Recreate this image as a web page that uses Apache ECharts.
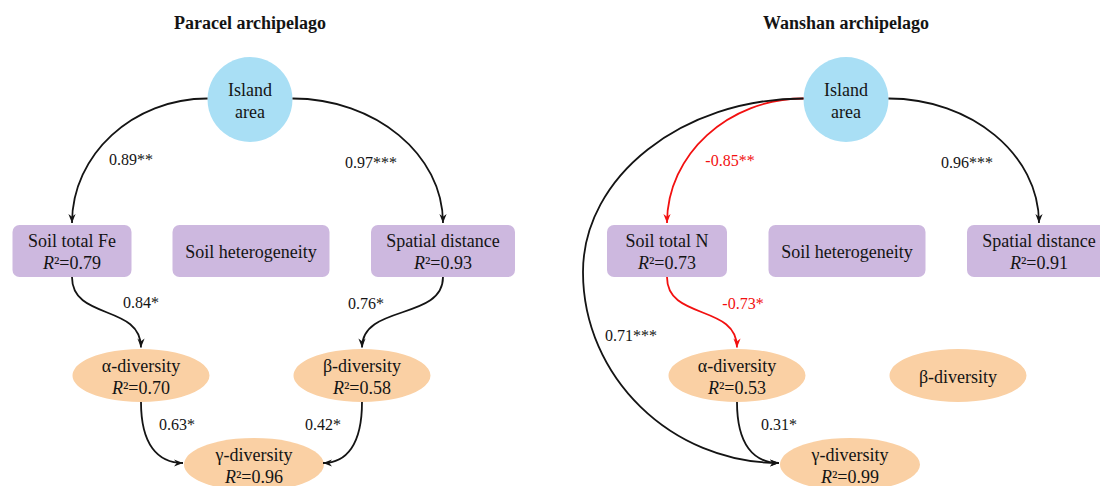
<!DOCTYPE html>
<html>
<head>
<meta charset="utf-8">
<script src="https://cdn.jsdelivr.net/npm/echarts@6/dist/echarts.min.js"></script>
<style>
  html, body { margin: 0; padding: 0; background: #fff; }
  #chart { width: 1100px; height: 486px; }
</style>
</head>
<body>
<div id="chart"></div>
<script>
// ---------------- Data: structural equation models of two archipelagos ----------------
const panelTitles = ['Paracel archipelago', 'Wanshan archipelago'];

// Variables of each model and their explained variance (null = not reported)
const paracelNodes = ['Island area', 'Soil total Fe', 'Soil heterogeneity', 'Spatial distance', 'α-diversity', 'β-diversity', 'γ-diversity'];
const paracelR2    = [null, 0.79, null, 0.93, 0.70, 0.58, 0.96];
const wanshanNodes = ['Island area', 'Soil total N', 'Soil heterogeneity', 'Spatial distance', 'α-diversity', 'β-diversity', 'γ-diversity'];
const wanshanR2    = [null, 0.73, null, 0.91, 0.53, null, 0.99];

// Significant paths: source, target, standardized coefficient, significance stars
const paracelFrom = ['Island area', 'Island area', 'Soil total Fe', 'Spatial distance', 'α-diversity', 'β-diversity'];
const paracelTo   = ['Soil total Fe', 'Spatial distance', 'α-diversity', 'β-diversity', 'γ-diversity', 'γ-diversity'];
const paracelCoef = [0.89, 0.97, 0.84, 0.76, 0.63, 0.42];
const paracelSig  = ['**', '***', '*', '*', '*', '*'];

const wanshanFrom = ['Island area', 'Island area', 'Island area', 'Soil total N', 'α-diversity'];
const wanshanTo   = ['Soil total N', 'Spatial distance', 'γ-diversity', 'α-diversity', 'γ-diversity'];
const wanshanCoef = [-0.85, 0.96, 0.71, -0.73, 0.31];
const wanshanSig  = ['**', '***', '***', '*', '*'];

// ---------------- Layout (diagram units = pixels of a 1100 x 486 canvas) ----------------
const WIDTH = 1100, HEIGHT = 486;
const panelShift = [0, 596];
const titlePos = [250, 23];

const nodeLayout = {
  'Island area':        { shape: 'circle',  x: 250, y: 99.5,  w: 85,  h: 85, text: 'Island\narea' },
  'Soil total Fe':      { shape: 'box',     x: 72,  y: 251,   w: 119, h: 52 },
  'Soil total N':       { shape: 'box',     x: 71,  y: 251,   w: 120, h: 52 },
  'Soil heterogeneity': { shape: 'box',     x: 251, y: 251,   w: 157, h: 52 },
  'Spatial distance':   { shape: 'box',     x: 443, y: 251,   w: 144, h: 52 },
  'α-diversity':        { shape: 'ellipse', x: 141, y: 375.5, w: 137, h: 53 },
  'β-diversity':        { shape: 'ellipse', x: 362, y: 375.5, w: 137, h: 53 },
  'γ-diversity':        { shape: 'ellipse', x: 254, y: 464.5, w: 140, h: 53 }
};

// Routing style of each path and where its coefficient sits
const edgeLayout = [
  {
    'Island area>Soil total Fe':     { route: 'arc',  label: [131, 159] },
    'Island area>Spatial distance':  { route: 'arc',  label: [371, 162] },
    'Soil total Fe>α-diversity':     { route: 'S',    label: [141, 302] },
    'Spatial distance>β-diversity':  { route: 'S',    label: [366, 303] },
    'α-diversity>γ-diversity':       { route: 'hook', label: [177, 424] },
    'β-diversity>γ-diversity':       { route: 'hook', label: [323, 424] }
  },
  {
    'Island area>Soil total N':      { route: 'arc',  label: [134, 160] },
    'Island area>Spatial distance':  { route: 'arc',  label: [371, 162] },
    'Island area>γ-diversity':       { route: 'loop', label: [35, 335], outer: [-13, 272] },
    'Soil total N>α-diversity':      { route: 'S',    label: [147, 303] },
    'α-diversity>γ-diversity':       { route: 'hook', label: [183, 424] }
  }
];

const FONT = '"Liberation Serif", "Times New Roman", Times, serif';
const COLORS = { circle: '#A9DFF5', box: '#CDB8DF', ellipse: '#FAD0A4', ink: '#141414', neg: '#F21010' };

// Cubic segments [p0, cp1, cp2, p3] for one path
function routeSegments(E, s, t) {
  const k = 0.55;
  if (E.route === 'arc') {
    const dir = Math.sign(t.x - s.x);
    const p0 = [s.x + dir * s.w / 2, s.y - 1];
    const p3 = [t.x, t.y - t.h / 2 - 2];
    return [[p0, [p0[0] + (p3[0] - p0[0]) * k, p0[1]], [p3[0], p3[1] - (p3[1] - p0[1]) * k], p3]];
  }
  if (E.route === 'S') {
    const p0 = [s.x, s.y + s.h / 2];
    const p3 = [t.x, t.y - t.h / 2 - 1.5];
    const d = (p3[1] - p0[1]) * 0.62;
    return [[p0, [p0[0], p0[1] + d], [p3[0], p3[1] - d], p3]];
  }
  if (E.route === 'hook') {
    const dir = Math.sign(t.x - s.x);
    const p0 = [s.x, s.y + s.h / 2];
    const p3 = [t.x - dir * t.w / 2 - 1, t.y - 1.5];
    return [[p0, [p0[0], p0[1] + (p3[1] - p0[1]) * 0.7], [p0[0] + (p3[0] - p0[0]) * 0.4, p3[1]], p3]];
  }
  // loop: around the outside of the panel, from the circle to the side of the target
  const p0 = [s.x - s.w / 2, s.y - 1];
  const m = E.outer;
  const p3 = [t.x - t.w / 2 - 1, t.y - 1.5];
  return [
    [p0, [p0[0] - (p0[0] - m[0]) * k, p0[1]], [m[0], m[1] - (m[1] - p0[1]) * k], m],
    [m, [m[0], m[1] + (p3[1] - m[1]) * k], [p3[0] - (p3[0] - m[0]) * k, p3[1]], p3]
  ];
}

const panels = [
  { nodes: paracelNodes, r2: paracelR2, from: paracelFrom, to: paracelTo, coef: paracelCoef, sig: paracelSig },
  { nodes: wanshanNodes, r2: wanshanR2, from: wanshanFrom, to: wanshanTo, coef: wanshanCoef, sig: wanshanSig }
];

const nodeItems = [];
const edgeItems = [];
panels.forEach((p, pi) => {
  const dx = panelShift[pi];
  p.nodes.forEach((name, i) => {
    const L = nodeLayout[name];
    nodeItems.push({ shape: L.shape, x: L.x + dx, y: L.y, w: L.w, h: L.h, text: L.text || name, r2: p.r2[i] });
  });
  p.from.forEach((src, j) => {
    const E = edgeLayout[pi][src + '>' + p.to[j]];
    const segs = routeSegments(E, nodeLayout[src], nodeLayout[p.to[j]])
      .map(seg => seg.map(pt => [pt[0] + dx, pt[1]]));
    edgeItems.push({
      segs,
      lx: E.label[0] + dx, ly: E.label[1],
      text: p.coef[j].toFixed(2) + p.sig[j],
      color: p.coef[j] < 0 ? COLORS.neg : COLORS.ink
    });
  });
});

const richStyles = {
  n: { fontFamily: FONT, fontSize: 18, fill: COLORS.ink, lineHeight: 22 },
  i: { fontFamily: FONT, fontSize: 18, fontStyle: 'italic', fill: COLORS.ink, lineHeight: 22 }
};

function renderNode(params, api) {
  const item = nodeItems[params.dataIndex];
  const c = api.coord([item.x, item.y]);
  const sz = api.size([item.w, item.h]);
  const w = sz[0], h = sz[1];
  let body;
  if (item.shape === 'box') {
    body = { type: 'rect', shape: { x: c[0] - w / 2, y: c[1] - h / 2, width: w, height: h, r: 7 }, style: { fill: COLORS.box } };
  } else if (item.shape === 'circle') {
    body = { type: 'circle', shape: { cx: c[0], cy: c[1], r: w / 2 }, style: { fill: COLORS.circle } };
  } else {
    body = { type: 'circle', x: c[0], y: c[1], scaleY: h / w, shape: { cx: 0, cy: 0, r: w / 2 }, style: { fill: COLORS.ellipse } };
  }
  const lines = item.text.split('\n').map(t => '{n|' + t + '}');
  if (item.r2 != null) lines.push('{i|R}{n|²=' + item.r2.toFixed(2) + '}');
  const label = {
    type: 'text', x: c[0], y: c[1] + 1,
    style: { text: lines.join('\n'), rich: richStyles, align: 'center', verticalAlign: 'middle', fontFamily: FONT, fontSize: 18, fill: COLORS.ink }
  };
  return { type: 'group', children: [body, label] };
}

function renderEdge(params, api) {
  const e = edgeItems[params.dataIndex];
  const children = [];
  let last = null;
  e.segs.forEach(seg => {
    const px = seg.map(pt => api.coord(pt));
    children.push({
      type: 'bezierCurve',
      shape: { x1: px[0][0], y1: px[0][1], cpx1: px[1][0], cpy1: px[1][1], cpx2: px[2][0], cpy2: px[2][1], x2: px[3][0], y2: px[3][1] },
      style: { stroke: e.color, lineWidth: 1.8, fill: null }
    });
    last = px;
  });
  // arrow head along the final tangent
  const tip = last[3], from = last[2];
  let ux = tip[0] - from[0], uy = tip[1] - from[1];
  const len = Math.hypot(ux, uy) || 1; ux /= len; uy /= len;
  const L = 9, hw = 3.6;
  const bx = tip[0] - ux * L, by = tip[1] - uy * L;
  children.push({
    type: 'polygon',
    shape: { points: [tip, [bx - uy * hw, by + ux * hw], [tip[0] - ux * L * 0.7, tip[1] - uy * L * 0.7], [bx + uy * hw, by - ux * hw]] },
    style: { fill: e.color }
  });
  const lp = api.coord([e.lx, e.ly]);
  children.push({
    type: 'text', x: lp[0], y: lp[1],
    style: { text: e.text, fontFamily: FONT, fontSize: 16, fill: e.color, align: 'center', verticalAlign: 'middle' }
  });
  return { type: 'group', children };
}

const chart = echarts.init(document.getElementById('chart'), null, { renderer: 'svg' });
chart.setOption({
  backgroundColor: '#ffffff',
  animation: false,
  title: panelTitles.map((t, i) => ({
    text: t,
    left: titlePos[0] + panelShift[i],
    top: titlePos[1] - 10,
    textAlign: 'center',
    padding: 0,
    textStyle: { fontFamily: FONT, fontSize: 18, fontWeight: 'bold', color: COLORS.ink, lineHeight: 20 }
  })),
  grid: { left: 0, right: 0, top: 0, bottom: 0 },
  xAxis: { type: 'value', min: 0, max: WIDTH, show: false },
  yAxis: { type: 'value', min: 0, max: HEIGHT, inverse: true, show: false },
  series: [
    { type: 'custom', coordinateSystem: 'cartesian2d', silent: true, z: 2,
      data: nodeItems.map(n => [n.x, n.y]), renderItem: renderNode },
    { type: 'custom', coordinateSystem: 'cartesian2d', silent: true, z: 3,
      data: edgeItems.map(e => [e.lx, e.ly]), renderItem: renderEdge }
  ]
});
</script>
</body>
</html>
